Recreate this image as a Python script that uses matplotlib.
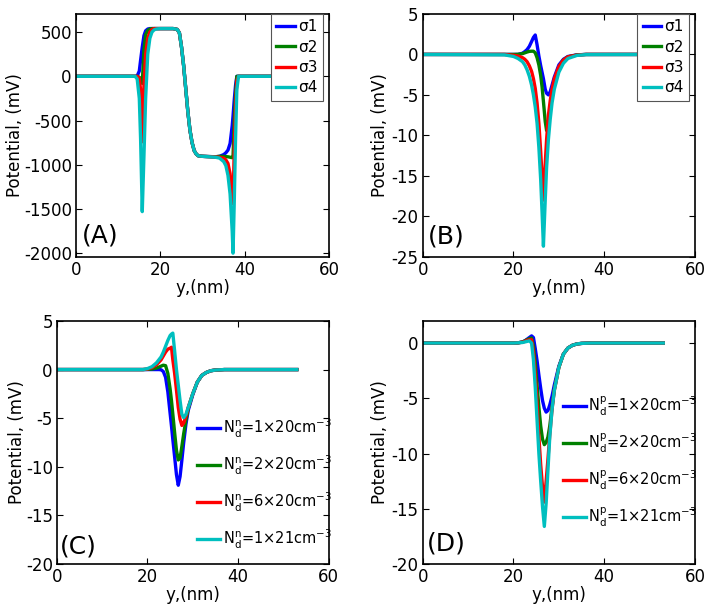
import matplotlib
matplotlib.use('Agg')
import matplotlib.pyplot as plt

# ---- data (x in nm, potential in mV) ----
# panel A : sigma sweep, full potential
xa = [0, 13, 14, 14.5, 15, 15.3, 15.7, 16.1, 16.5, 17, 17.5, 18, 18.5, 19, 20,
      23, 24, 24.5, 25, 25.5, 26, 26.5, 27, 27.5, 28, 28.5, 29, 30, 33, 34,
      35, 35.5, 36, 36.5, 37, 37.2, 37.5, 37.8, 38.1, 38.5, 40, 53]
a_s1 = [0, 0, 0, 5, 60, 180, 330, 460, 515, 535, 540, 540, 540, 540, 540,
        540, 530, 490, 330, 120, -140, -400, -610, -750, -840, -880, -900, -905, -910, -905,
        -885, -865, -835, -760, -560, -450, -260, -100, 0, 0, 0, 0]
a_s2 = [0, 0, 0, 0, -10, -40, -80, 300, 470, 520, 535, 540, 540, 540, 540,
        540, 530, 490, 330, 120, -140, -400, -610, -750, -840, -880, -900, -905, -910, -905,
        -905, -908, -910, -915, -920, -905, -500, -200, 0, 0, 0, 0]
a_s3 = [0, 0, 0, 0, -20, -150, -740, -100, 250, 430, 500, 530, 540, 540, 540,
        540, 530, 490, 330, 120, -140, -400, -610, -750, -840, -880, -900, -905, -912, -915,
        -925, -945, -985, -1100, -1350, -1440, -800, -350, -50, 0, 0, 0]
a_s4 = [0, 0, 0, -30, -250, -700, -1530, -900, -250, 250, 430, 500, 525, 535, 540,
        540, 530, 490, 330, 120, -140, -400, -610, -750, -840, -880, -900, -905, -915, -925,
        -965, -1010, -1120, -1330, -1750, -2000, -1400, -700, -150, 0, 0, 0]

# panel B : sigma sweep, perturbation
xb = [0, 18, 20, 21, 22, 22.5, 23, 23.5, 24, 24.4, 24.8, 25.2, 25.6, 26, 26.3,
      26.6, 27, 27.3, 27.7, 28.1, 28.5, 29, 30, 31, 32, 34, 36, 53]
b_s1 = [0, 0, 0, 0, 0.15, 0.35, 0.6, 1.0, 1.6, 2.1, 2.4, 1.2, -0.2, -1.4, -2.2,
        -3.0, -4.3, -4.8, -5.0, -4.6, -3.8, -2.8, -1.3, -0.6, -0.25, -0.05, 0, 0]
b_s2 = [0, 0, 0, 0.02, 0.1, 0.2, 0.3, 0.38, 0.4, 0.4, 0.2, -0.4, -1.3, -2.6, -4.0,
        -5.8, -8.3, -9.4, -8.3, -6.8, -5.2, -3.6, -1.6, -0.7, -0.3, -0.06, 0, 0]
b_s3 = [0, 0, -0.1, -0.2, -0.4, -0.6, -0.9, -1.4, -2.1, -3.0, -4.2, -6.0, -8.5, -12, -15,
        -18, -13.5, -10.5, -7.5, -5.7, -4.3, -3.0, -1.5, -0.7, -0.3, -0.08, 0, 0]
b_s4 = [0, -0.05, -0.25, -0.5, -0.9, -1.3, -1.9, -2.7, -3.8, -5.0, -6.5, -8.5, -11.5, -15.5, -19.5,
        -23.7, -18, -14, -10.5, -8.0, -6.0, -4.3, -2.2, -1.1, -0.5, -0.12, -0.02, 0]

# panel C : n-side doping sweep
xc = [0, 18, 19, 20, 21, 22, 22.5, 23, 23.5, 24, 24.5, 25, 25.3, 25.6, 26, 26.4,
      26.8, 27.2, 27.6, 28, 28.5, 29, 30, 31, 32, 33, 34, 35, 37, 53]
c_n1 = [0, 0, 0, 0, 0, 0, 0, -0.02, -0.2, -0.8, -2.3, -4.5, -5.8, -7.2, -9.0, -10.8,
        -11.9, -11.0, -9.3, -7.5, -5.6, -4.2, -2.6, -1.3, -0.6, -0.3, -0.12, -0.05, 0, 0]
c_n2 = [0, 0, 0, 0.02, 0.05, 0.15, 0.25, 0.35, 0.45, 0.4, -0.4, -2.0, -3.2, -4.6, -6.5, -8.3,
        -9.3, -9.1, -7.9, -6.6, -5.2, -4.0, -2.5, -1.3, -0.6, -0.3, -0.12, -0.05, 0, 0]
c_n3 = [0, 0, 0, 0.05, 0.2, 0.5, 0.75, 1.0, 1.4, 1.8, 2.1, 2.2, 2.3, 1.0, -0.4, -2.1,
        -3.9, -5.1, -5.75, -5.5, -4.8, -3.9, -2.5, -1.3, -0.6, -0.3, -0.12, -0.05, 0, 0]
c_n4 = [0, 0, 0, 0.1, 0.3, 0.7, 1.0, 1.3, 1.8, 2.4, 3.0, 3.5, 3.65, 3.75, 1.9, 0.0,
        -1.6, -3.2, -4.6, -4.95, -4.6, -3.9, -2.5, -1.3, -0.6, -0.3, -0.12, -0.05, 0, 0]

# panel D : p-side doping sweep
xd = [0, 18, 20, 21, 22, 22.5, 23, 23.5, 24, 24.4, 24.8, 25.2, 25.6, 26, 26.4,
      26.8, 27.2, 27.6, 28, 28.5, 29, 30, 31, 32, 33, 34, 35, 37, 53]
d_p1 = [0, 0, 0, 0.02, 0.1, 0.2, 0.35, 0.5, 0.65, 0.5, -0.5, -1.6, -2.9, -4.1, -5.2,
        -5.9, -6.25, -6.1, -5.6, -4.8, -3.8, -2.1, -1.0, -0.45, -0.2, -0.08, -0.03, 0, 0]
d_p2 = [0, 0, 0, 0.02, 0.1, 0.2, 0.3, 0.4, 0.45, -0.3, -1.8, -3.8, -5.8, -7.5, -8.7,
        -9.2, -9.0, -8.5, -7.5, -5.8, -4.2, -2.2, -1.0, -0.45, -0.2, -0.08, -0.03, 0, 0]
d_p3 = [0, 0, 0, 0.02, 0.08, 0.15, 0.25, 0.3, 0.3, -0.8, -2.8, -5.5, -8.5, -11.0, -13.0,
        -14.4, -12.5, -10.5, -8.3, -6.0, -4.3, -2.2, -1.0, -0.45, -0.2, -0.08, -0.03, 0, 0]
d_p4 = [0, 0, 0, 0.02, 0.05, 0.1, 0.15, 0.2, 0.0, -1.5, -4.0, -7.0, -10.0, -12.5, -14.8,
        -16.6, -14.5, -11.5, -8.5, -6.0, -4.3, -2.2, -1.0, -0.45, -0.2, -0.08, -0.03, 0, 0]

sigma_labels = ['σ1', 'σ2', 'σ3', 'σ4']
n_labels = [r'$N_d^n$=1×20cm$^{-3}$', r'$N_d^n$=2×20cm$^{-3}$',
            r'$N_d^n$=6×20cm$^{-3}$', r'$N_d^n$=1×21cm$^{-3}$']
p_labels = [r'$N_d^p$=1×20cm$^{-3}$', r'$N_d^p$=2×20cm$^{-3}$',
            r'$N_d^p$=6×20cm$^{-3}$', r'$N_d^p$=1×21cm$^{-3}$']

colors = ['#0000ff', '#008000', '#ff0000', '#00bfbf']

plt.rcParams['font.family'] = 'DejaVu Sans'
plt.rcParams['font.size'] = 12
plt.rcParams['mathtext.default'] = 'regular'
plt.rcParams['axes.linewidth'] = 1.2
plt.rcParams['axes.unicode_minus'] = False

fig = plt.figure(figsize=(7.14, 6.08), dpi=100)
axA = fig.add_axes([0.1064, 0.5778, 0.3548, 0.3992])
axB = fig.add_axes([0.5920, 0.5778, 0.3814, 0.3992])
axC = fig.add_axes([0.0798, 0.0724, 0.3803, 0.3997])
axD = fig.add_axes([0.5920, 0.0724, 0.3814, 0.3997])

panels = [
    (axA, xa, [a_s1, a_s2, a_s3, a_s4], sigma_labels, (-2040, 705), range(-2000, 501, 500), '(A)', -0.241),
    (axB, xb, [b_s1, b_s2, b_s3, b_s4], sigma_labels, (-25, 5), range(-25, 6, 5), '(B)', -0.157),
    (axC, xc, [c_n1, c_n2, c_n3, c_n4], n_labels, (-20, 5), range(-20, 6, 5), '(C)', -0.148),
    (axD, xd, [d_p1, d_p2, d_p3, d_p4], p_labels, (-20, 2), range(-20, 1, 5), '(D)', -0.157),
]
tag_pos = {'(A)': (0.022, 0.089), '(B)': (0.018, 0.082),
           '(C)': (0.011, 0.071), '(D)': (0.015, 0.085)}

for ax, x, ys, labels, ylim, yticks, tag, ylab_x in panels:
    for y, c, lab in zip(ys, colors, labels):
        ax.plot(x, y, color=c, lw=2.4, label=lab)
    ax.set_xlim(0, 60)
    ax.set_ylim(*ylim)
    ax.set_xticks([0, 20, 40, 60])
    ax.set_yticks(list(yticks))
    ax.tick_params(direction='in', top=True, right=True, length=4, width=0.8,
                   labelsize=12, pad=3)
    ax.set_xlabel('y,(nm)', fontsize=12, labelpad=0)
    ax.set_ylabel('Potential, (mV)', fontsize=12, va='center')
    ax.yaxis.set_label_coords(ylab_x, 0.5)
    tx, ty = tag_pos[tag]
    ax.text(tx, ty, tag, transform=ax.transAxes, fontsize=18,
            ha='left', va='center')

for ax, bx in [(axA, 0.974), (axB, 0.978)]:
    leg = ax.legend(loc='upper right', bbox_to_anchor=(bx, 1.0), fontsize=11,
                    handlelength=1.2, handletextpad=0.2, labelspacing=0.35,
                    borderpad=0.35, borderaxespad=0, fancybox=False,
                    framealpha=1, edgecolor='#555555')
    leg.get_frame().set_linewidth(0.8)

for ax, pos in [(axC, (0.516, 0.33)), (axD, (0.515, 0.42))]:
    ax.legend(loc='center left', bbox_to_anchor=pos, fontsize=10.5,
              handlelength=1.6, handletextpad=0.15, labelspacing=0.95,
              borderpad=0, borderaxespad=0, frameon=False)

fig.savefig('out.png', dpi=100)
